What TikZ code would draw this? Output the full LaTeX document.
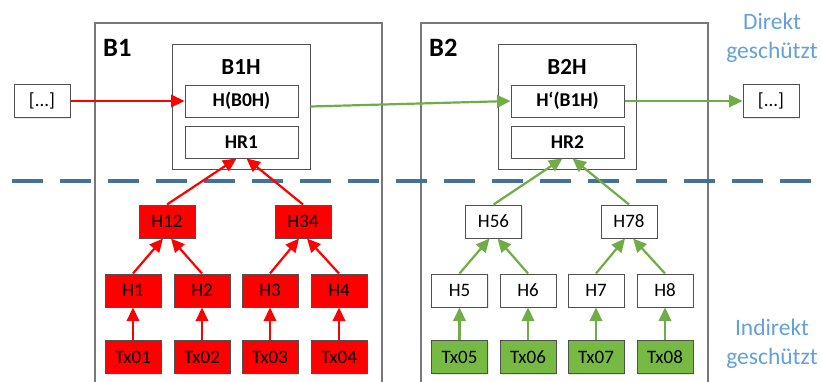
\documentclass[tikz,border=0pt]{standalone}
\usepackage{fontspec}
\setmainfont{Carlito}
\usetikzlibrary{arrows.meta,shadows}
\definecolor{dashblue}{RGB}{65,113,156}
\definecolor{lblue}{RGB}{100,160,220}
\definecolor{fgreen}{RGB}{118,186,67}
\definecolor{agreen}{RGB}{112,173,71}
\definecolor{bordergray}{RGB}{80,80,80}
\definecolor{outergray}{RGB}{120,120,120}
\tikzset{
  box/.style={draw=bordergray, line width=1pt, fill=white, minimum width=56pt, minimum height=33pt, inner sep=0pt,
    font=\fontsize{19}{22}\selectfont, drop shadow={opacity=0.18, shadow xshift=1.2pt, shadow yshift=-1.2pt}},
  redbox/.style={box, fill=red},
  greenbox/.style={box, fill=fgreen},
  inbox/.style={box, minimum width=113pt, minimum height=32pt, font=\fontsize{19.5}{22}\selectfont\bfseries},
  hbox/.style={draw=bordergray, line width=1pt, fill=white, minimum width=138pt, minimum height=125pt, inner sep=0pt,
    drop shadow={opacity=0.18, shadow xshift=1.2pt, shadow yshift=-1.2pt}},
  outerbox/.style={draw=outergray, line width=1.3pt, minimum width=287pt, minimum height=380pt, inner sep=0pt},
  title/.style={inner sep=0pt, font=\fontsize{23}{26}\selectfont\bfseries},
  blabel/.style={inner sep=0pt, anchor=west, font=\fontsize{26.5}{30}\selectfont\bfseries},
  note/.style={inner sep=0pt, text=lblue, align=center, font=\fontsize{23.5}{29}\selectfont},
  redarr/.style={draw=red, line width=2.2pt, -{Triangle[length=13.5pt,width=12.5pt]}},
  greenarr/.style={draw=agreen, line width=2.2pt, -{Triangle[length=13.5pt,width=12.5pt]}},
}
\begin{document}
\begin{tikzpicture}[x=1pt,y=-1pt]
\useasboundingbox (0,0) rectangle (821,381);
\clip (0,0) rectangle (821,381);
% outer block frames
\node[outerbox] (B1) at (238.5,213) {};
\node[outerbox] (B2) at (564.5,213) {};
\node[blabel] (B1t) at (103,48) {B1};
\node[blabel] (B2t) at (429,48) {B2};
% dashed separator
\coordinate (dL) at (12,181);
\coordinate (dR) at (816,181);
\draw[dashblue, line width=4pt, dash pattern=on 31pt off 17pt] (dL) -- (dR);
% header boxes
\node[hbox] (B1H) at (241,106.5) {};
\node[title] (B1Ht) at (241,67) {B1H};
\node[inbox] (HB0) at (241.5,101) {H(B0H)};
\node[inbox] (HR1) at (241.5,142) {HR1};
\node[hbox] (B2H) at (567,106.5) {};
\node[title] (B2Ht) at (567,67) {B2H};
\node[inbox] (HB1) at (567.5,101) {H‘(B1H)};
\node[inbox] (HR2) at (567.5,142) {HR2};
\node[box] (L) at (42,101) {[...]};
\node[box] (R) at (771,101) {[...]};
% notes
\node[note] (n1) at (772,38) {Direkt\\geschützt};
\node[note] (n2) at (772,344) {Indirekt\\geschützt};
% block 1 tree
\node[redbox] (H12) at (167,221.5) {H12};
\node[redbox] (H34) at (303,221.5) {H34};
\node[redbox] (H1) at (133,290.5) {H1};
\node[redbox] (H2) at (202,290.5) {H2};
\node[redbox] (H3) at (270,290.5) {H3};
\node[redbox] (H4) at (339,290.5) {H4};
\node[redbox] (T1) at (133,357) {Tx01};
\node[redbox] (T2) at (202,357) {Tx02};
\node[redbox] (T3) at (270,357) {Tx03};
\node[redbox] (T4) at (339,357) {Tx04};
% block 2 tree
\node[box] (H56) at (493.5,221.5) {H56};
\node[box] (H78) at (629,221.5) {H78};
\node[box] (H5) at (459.5,290.5) {H5};
\node[box] (H6) at (528,290.5) {H6};
\node[box] (H7) at (596,290.5) {H7};
\node[box] (H8) at (665,290.5) {H8};
\node[greenbox] (T5) at (459.5,357) {Tx05};
\node[greenbox] (T6) at (528,357) {Tx06};
\node[greenbox] (T7) at (596,357) {Tx07};
\node[greenbox] (T8) at (665,357) {Tx08};
% chain arrows
\draw[redarr] (L.east) -- (HB0.west);
\draw[greenarr] (B1H.east) -- (HB1.west);
\draw[greenarr] (HB1.east) -- (R.west);
% block 1 arrows
\draw[redarr] (H12.north) -- ([xshift=-5pt]HR1.south);
\draw[redarr] (H34.north) -- ([xshift=5pt]HR1.south);
\draw[redarr] (H1.north) -- ([xshift=-4pt]H12.south);
\draw[redarr] (H2.north) -- ([xshift=4pt]H12.south);
\draw[redarr] (H3.north) -- ([xshift=-4pt]H34.south);
\draw[redarr] (H4.north) -- ([xshift=4pt]H34.south);
\draw[redarr] (T1.north) -- (H1.south);
\draw[redarr] (T2.north) -- (H2.south);
\draw[redarr] (T3.north) -- (H3.south);
\draw[redarr] (T4.north) -- (H4.south);
% block 2 arrows
\draw[greenarr] (H56.north) -- ([xshift=-5pt]HR2.south);
\draw[greenarr] (H78.north) -- ([xshift=5pt]HR2.south);
\draw[greenarr] (H5.north) -- ([xshift=-4pt]H56.south);
\draw[greenarr] (H6.north) -- ([xshift=4pt]H56.south);
\draw[greenarr] (H7.north) -- ([xshift=-4pt]H78.south);
\draw[greenarr] (H8.north) -- ([xshift=4pt]H78.south);
\draw[greenarr] (T5.north) -- (H5.south);
\draw[greenarr] (T6.north) -- (H6.south);
\draw[greenarr] (T7.north) -- (H7.south);
\draw[greenarr] (T8.north) -- (H8.south);
\end{tikzpicture}
\end{document}
